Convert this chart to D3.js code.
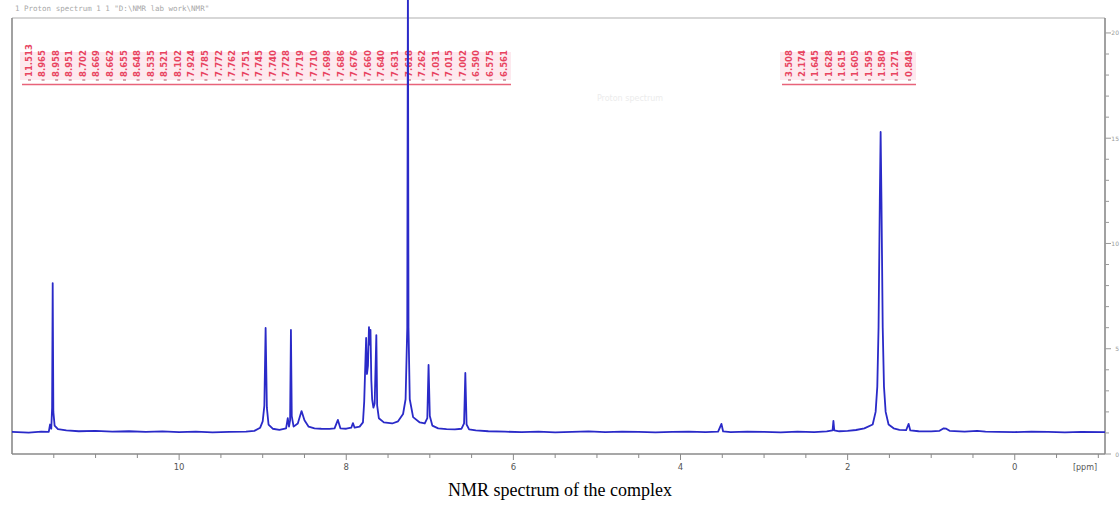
<!DOCTYPE html>
<html>
<head>
<meta charset="utf-8">
<script src="https://cdn.jsdelivr.net/npm/d3@7"></script>
<style>
  body { margin: 0; background: #ffffff; }
  svg { display: block; }
</style>
</head>
<body>
<div class="Spectrum"></div>
<script>
// 1H NMR spectrum

// trace vertices [ppm, intensity], left to right
var trace = [
  [12.00, 1.05], [11.80, 1.02], [11.65, 1.06], [11.56, 1.05], [11.545, 1.40], [11.53, 1.20],
  [11.52, 2.2], [11.513, 8.12], [11.505, 2.0], [11.49, 1.35], [11.45, 1.18], [11.35, 1.12],
  [11.20, 1.08], [11.00, 1.10], [10.80, 1.06], [10.60, 1.08], [10.40, 1.05], [10.20, 1.07],
  [10.00, 1.04], [9.80, 1.06], [9.60, 1.03], [9.40, 1.05], [9.20, 1.06], [9.10, 1.10],
  [9.03, 1.25], [9.00, 1.55], [8.98, 2.3], [8.965, 5.99], [8.95, 2.2], [8.93, 1.4],
  [8.88, 1.2], [8.80, 1.15], [8.72, 1.22], [8.70, 1.7], [8.685, 1.3], [8.672, 1.6],
  [8.662, 5.89], [8.652, 1.8], [8.63, 1.3], [8.58, 1.45], [8.535, 2.04], [8.50, 1.6],
  [8.45, 1.3], [8.38, 1.22], [8.30, 1.2], [8.20, 1.19], [8.14, 1.22], [8.10, 1.62],
  [8.07, 1.22], [8.00, 1.2], [7.94, 1.25], [7.92, 1.47], [7.90, 1.25], [7.84, 1.3],
  [7.80, 1.5], [7.785, 2.5], [7.77, 4.5], [7.762, 5.51], [7.752, 3.8], [7.74, 4.2],
  [7.728, 6.03], [7.72, 5.2], [7.71, 5.89], [7.70, 3.5], [7.69, 2.6], [7.675, 2.2],
  [7.66, 2.4], [7.64, 5.65], [7.63, 2.3], [7.61, 1.7], [7.55, 1.5], [7.45, 1.45],
  [7.38, 1.55], [7.32, 1.9], [7.29, 2.6], [7.27, 6.0], [7.262, 23.0], [7.255, 6.0],
  [7.24, 2.6], [7.20, 1.75], [7.12, 1.5], [7.06, 1.45], [7.03, 1.7], [7.015, 4.23],
  [7.00, 1.8], [6.97, 1.35], [6.90, 1.22], [6.80, 1.18], [6.70, 1.17], [6.62, 1.2],
  [6.59, 1.45], [6.575, 3.85], [6.56, 1.4], [6.53, 1.17], [6.45, 1.12], [6.30, 1.08],
  [6.10, 1.06], [5.90, 1.04], [5.70, 1.06], [5.50, 1.03], [5.30, 1.05], [5.10, 1.07],
  [4.90, 1.04], [4.70, 1.06], [4.50, 1.05], [4.30, 1.03], [4.10, 1.05], [3.90, 1.06],
  [3.70, 1.04], [3.55, 1.06], [3.51, 1.43], [3.49, 1.07], [3.40, 1.04], [3.20, 1.06],
  [3.00, 1.05], [2.80, 1.03], [2.60, 1.06], [2.40, 1.04], [2.25, 1.07], [2.18, 1.12],
  [2.17, 1.57], [2.16, 1.12], [2.10, 1.08], [2.00, 1.10], [1.90, 1.14], [1.80, 1.22],
  [1.70, 1.40], [1.665, 2.0], [1.645, 3.2], [1.63, 6.0], [1.615, 12.0], [1.605, 15.3],
  [1.595, 12.0], [1.58, 6.0], [1.565, 3.2], [1.545, 2.0], [1.51, 1.4], [1.45, 1.22],
  [1.38, 1.15], [1.30, 1.13], [1.27, 1.43], [1.25, 1.12], [1.15, 1.08], [1.00, 1.07],
  [0.90, 1.10], [0.85, 1.22], [0.82, 1.20], [0.78, 1.10], [0.60, 1.06], [0.45, 1.10],
  [0.35, 1.06], [0.20, 1.05], [0.00, 1.04], [-0.20, 1.06], [-0.40, 1.05], [-0.60, 1.03],
  [-0.80, 1.05], [-1.08, 1.04]
]

// peak pick labels (two groups, as printed above the spectrum)
var labels_left = ["11.513", "8.965", "8.958", "8.951", "8.702", "8.669", "8.662", "8.655",
  "8.648", "8.535", "8.521", "8.102", "7.924", "7.785", "7.772", "7.762", "7.751", "7.745",
  "7.740", "7.728", "7.719", "7.710", "7.698", "7.686", "7.676", "7.660", "7.640", "7.631",
  "7.618", "7.262", "7.031", "7.015", "7.002", "6.590", "6.575", "6.561"]
var labels_right = ["3.508", "2.174", "1.645", "1.628", "1.615", "1.605", "1.595", "1.580",
  "1.271", "0.849"]

var x_major = [10, 8, 6, 4, 2, 0]
var x_minor = d3.range(11.5, -1.01, -0.5)
var y_major = [0, 5, 10, 15, 20]
var y_minor = d3.range(0, 21, 1)
var x_unit = "[ppm]"
var caption = "NMR spectrum of the complex"
var header = "1  Proton spectrum   1   1   \"D:\\NMR lab work\\NMR\""

var width = 1120, height = 508
var box = {left: 12, top: 18, right: 1105, bottom: 454}

var svg = d3.select(".Spectrum")
  .append("svg")
    .attr("width", width)
    .attr("height", height)

var xScale = d3.scaleLinear().domain([12.0, -1.08]).range([box.left, box.right])
var yScale = d3.scaleLinear().domain([0, 20.71]).range([box.bottom, box.top])

// header line and faint watermark
svg.append("text")
  .attr("x", 15).attr("y", 11)
  .attr("font-family", "DejaVu Sans Mono, monospace")
  .attr("font-size", 7.5)
  .attr("fill", "#a8a8a8")
  .text(header)

svg.append("text")
  .attr("x", 630).attr("y", 101)
  .attr("text-anchor", "middle")
  .attr("font-family", "DejaVu Sans, sans-serif")
  .attr("font-size", 8)
  .attr("fill", "#ececec")
  .text("Proton spectrum")

// frame
svg.append("line")
  .attr("x1", box.left).attr("x2", box.right).attr("y1", box.top).attr("y2", box.top)
  .attr("stroke", "#b0b0b0").attr("stroke-width", 1.2)
svg.append("line")
  .attr("x1", box.left).attr("x2", box.left).attr("y1", box.top).attr("y2", box.bottom)
  .attr("stroke", "#8a8a8a").attr("stroke-width", 1.6)
svg.append("line")
  .attr("x1", box.right).attr("x2", box.right).attr("y1", box.top).attr("y2", box.bottom)
  .attr("stroke", "#8a8a8a").attr("stroke-width", 1.6)

// x axis at the bottom
var xAxis = svg.append("g").attr("transform", "translate(0," + box.bottom + ")")
xAxis.append("line")
  .attr("x1", box.left).attr("x2", box.right)
  .attr("stroke", "#8a8a8a").attr("stroke-width", 1.6)
xAxis.selectAll(".minor")
  .data(x_minor)
  .enter().append("line")
    .attr("x1", function(d) { return xScale(d) }).attr("x2", function(d) { return xScale(d) })
    .attr("y1", 0).attr("y2", function(d) { return x_major.indexOf(d) >= 0 ? 6 : 4 })
    .attr("stroke", "#8a8a8a").attr("stroke-width", 1)
xAxis.selectAll(".lbl")
  .data(x_major)
  .enter().append("text")
    .attr("x", function(d) { return xScale(d) })
    .attr("y", 16)
    .attr("text-anchor", "middle")
    .attr("font-family", "DejaVu Sans, sans-serif")
    .attr("font-size", 8.5)
    .attr("fill", "#555")
    .text(function(d) { return d })
xAxis.append("text")
  .attr("x", 1085).attr("y", 16)
  .attr("text-anchor", "middle")
  .attr("font-family", "DejaVu Sans, sans-serif")
  .attr("font-size", 8)
  .attr("fill", "#555")
  .text(x_unit)

// intensity axis on the right (labels squeezed into the last few pixels)
var yAxis = svg.append("g").attr("transform", "translate(" + box.right + ",0)")
yAxis.selectAll(".minor")
  .data(y_minor)
  .enter().append("line")
    .attr("y1", function(d) { return yScale(d) }).attr("y2", function(d) { return yScale(d) })
    .attr("x1", 0).attr("x2", function(d) { return y_major.indexOf(d) >= 0 ? 6 : 4 })
    .attr("stroke", "#9a9a9a").attr("stroke-width", 1)
yAxis.selectAll(".lbl")
  .data(y_major)
  .enter().append("text")
    .attr("x", 14)
    .attr("y", function(d) { return yScale(d) + 2.5 })
    .attr("text-anchor", "end")
    .attr("font-family", "DejaVu Sans, sans-serif")
    .attr("font-size", 6)
    .attr("fill", "#999")
    .text(function(d) { return d })

// peak label groups
function labelGroup(list, x0, x1) {
  var pos = d3.scalePoint().domain(d3.range(list.length)).range([x0, x1])
  var g = svg.append("g")
  g.append("rect")
    .attr("x", x0 - 8).attr("y", 52)
    .attr("width", x1 - x0 + 16).attr("height", 28)
    .attr("fill", "#fde9ee")
  g.selectAll("text")
    .data(list)
    .enter().append("text")
      .attr("transform", function(d, i) { return "translate(" + (pos(i) + 3.5) + ",77)rotate(-90)" })
      .attr("font-family", "DejaVu Sans, sans-serif")
      .attr("font-size", 8.5)
      .attr("font-weight", "bold")
      .attr("fill", "#e8435f")
      .text(function(d) { return d })
  g.selectAll(".dash")
    .data(list)
    .enter().append("line")
      .attr("x1", function(d, i) { return pos(i) }).attr("x2", function(d, i) { return pos(i) + 3 })
      .attr("y1", 80).attr("y2", 80)
      .attr("stroke", "#b05060").attr("stroke-width", 1)
  g.append("line")
    .attr("x1", x0 - 6).attr("x2", x1 + 8).attr("y1", 84.5).attr("y2", 84.5)
    .attr("stroke", "#e8637a").attr("stroke-width", 1.3)
}
labelGroup(labels_left, 28, 503)
labelGroup(labels_right, 788, 908)

// spectrum trace
var line = d3.line()
  .x(function(d) { return xScale(d[0]) })
  .y(function(d) { return yScale(d[1]) })

svg.append("path")
  .datum(trace)
  .attr("d", line)
  .attr("fill", "none")
  .attr("stroke", "#2a2ac8")
  .attr("stroke-width", 1.8)
  .attr("stroke-linejoin", "round")

// caption
svg.append("text")
  .attr("x", 560).attr("y", 496)
  .attr("text-anchor", "middle")
  .attr("font-family", "Liberation Serif, Times New Roman, serif")
  .attr("font-size", 18)
  .attr("fill", "#000")
  .text(caption)
</script>
</body>
</html>
